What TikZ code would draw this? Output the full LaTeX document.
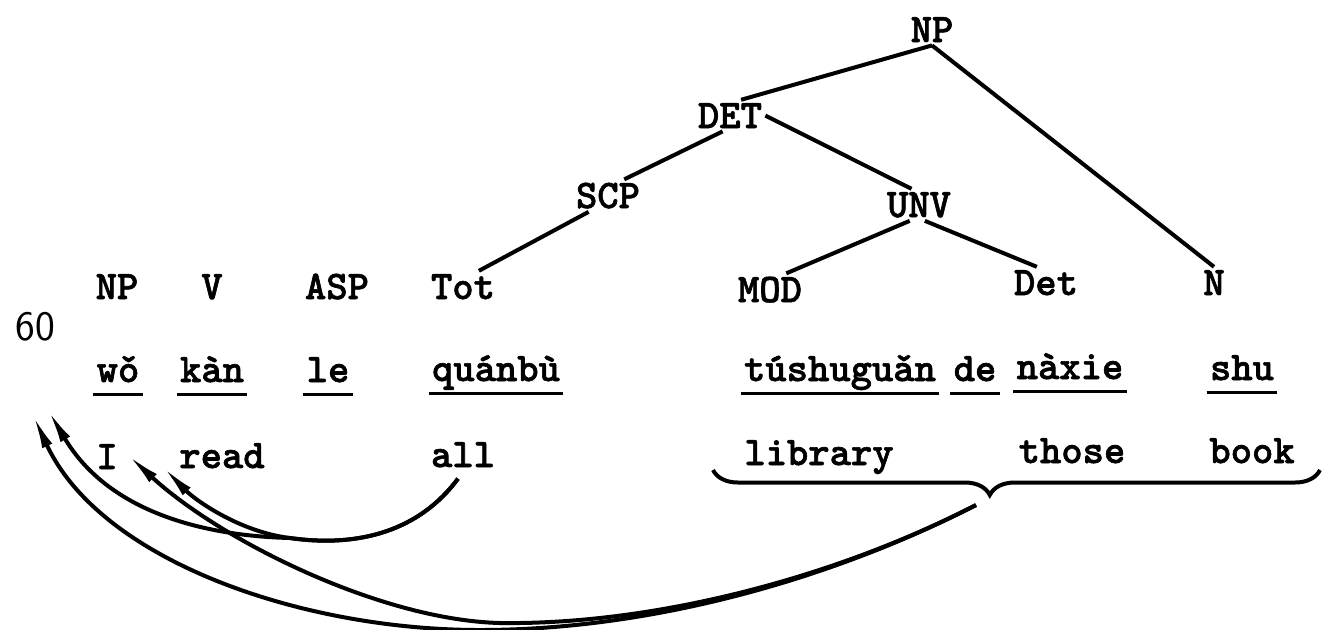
\documentclass[tikz,border=0pt]{standalone}
\usepackage{fontspec}
\newfontfamily\maquina{lmmonolt10-bold.otf}[FakeBold=1.5]
\usetikzlibrary{arrows.meta, decorations.pathreplacing}

\begin{document}
\begin{tikzpicture}[x=0.5pt, y=-0.5pt]

	%ESTILOS
	\tikzstyle{every node}=[font=\maquina\fontsize{20.3}{24}\selectfont]
	\tikzstyle{palabra} = [inner sep=1.5pt, anchor=base]
	\tikzstyle{pinyin} = [palabra, text depth=4.5pt]
	\tikzstyle{margen} = [anchor=base, font=\sffamily\fontsize{21}{24}\selectfont]
	\tikzstyle{rama} = [line width=2pt]
	\tikzstyle{subrayado} = [line width=1.5pt]
	\tikzstyle{curva} = [-{Latex[length=17pt,width=5.5pt]}, line width=2pt]
	\tikzstyle{llave} = [decorate, decoration={brace, mirror, amplitude=12.5pt, aspect=0.456}, line width=2pt]

	\useasboundingbox (0,0) rectangle (1322,629);

	%ARBOL
	\draw(932,42) node[palabra](np0){NP};
	\draw(730,128) node[palabra](det){DET};
	\draw(608,208) node[palabra](scp){SCP};
	\draw(919,217) node[palabra](unv){UNV};

	%CATEGORIAS
	\draw(117,299) node[palabra](nps){NP};
	\draw(212,299) node[palabra](v){V};
	\draw(337,299) node[palabra](asp){ASP};
	\draw(463,299) node[palabra](tot){Tot};
	\draw(770,302) node[palabra](mod){MOD};
	\draw(1046,295) node[palabra](dt){Det};
	\draw(1214,295) node[palabra](n){N};

	\draw(35,340) node[margen](sesenta){60};

	%RAMAS
	\draw[rama] (np0.south) -- (det.55);
	\draw[rama] (np0.south) -- (n.north);
	\draw[rama] (det.-115) -- (scp.45);
	\draw[rama] (det.east) -- (unv.115);
	\draw[rama] (scp.-140) -- (tot.45);
	\draw[rama] (unv.-120) -- (mod.45);
	\draw[rama] (unv.-70) -- (dt.120);

	%PINYIN
	\draw(118,382) node[pinyin](wo){wǒ};
	\draw(212,382) node[pinyin](kan){kàn};
	\draw(328,382) node[pinyin](le){le};
	\draw(496,381) node[pinyin](qb){quánbù};
	\draw(840,381) node[pinyin](tsg){túshuguǎn};
	\draw(975,381) node[pinyin](de){de};
	\draw(1070,379) node[pinyin](nx){nàxie};
	\draw(1242,380) node[pinyin](shu){shu};

	\draw[subrayado] (wo.south west) -- (wo.south east);
	\draw[subrayado] (kan.south west) -- (kan.south east);
	\draw[subrayado] (le.south west) -- (le.south east);
	\draw[subrayado] (qb.south west) -- (qb.south east);
	\draw[subrayado] (tsg.south west) -- (tsg.south east);
	\draw[subrayado] (de.south west) -- (de.south east);
	\draw[subrayado] (nx.south west) -- (nx.south east);
	\draw[subrayado] (shu.south west) -- (shu.south east);

	%GLOSAS
	\draw(107,469) node[palabra](i){I};
	\draw(222,468) node[palabra](read){read};
	\draw(463,467) node[palabra](all){all};
	\draw(819,465) node[palabra](lib){library};
	\draw(1072,463) node[palabra](those){those};
	\draw(1252,463) node[palabra](book){book};

	%LLAVE
	\coordinate (llaveI) at (713,470);
	\coordinate (llaveD) at (1320,470);
	\draw[llave] (llaveI) -- (llaveD);

	%CURVAS
	\coordinate (pico) at (976,505);
	\coordinate (f1) at (33,415);
	\coordinate (f2) at (48,410);
	\coordinate (f3) at (128,455);
	\coordinate (f4) at (163,467);

	\draw[curva] (pico) .. controls (830,580) and (650,630) .. (480,630) .. controls (300,630) and (100,560) .. (f1);
	\draw[curva] (pico) .. controls (830,580) and (650,625) .. (500,623) .. controls (380,620) and (220,540) .. (f3);
	\draw[curva] ([xshift=-2.5pt,yshift=-4pt]all.south) .. controls (420,530) and (360,548) .. (290,538) .. controls (210,536) and (110,515) .. (f2);
	\draw[curva] ([xshift=-2.5pt,yshift=-4pt]all.south) .. controls (420,530) and (360,548) .. (290,538) .. controls (240,532) and (195,500) .. (f4);
\end{tikzpicture}
\end{document}
